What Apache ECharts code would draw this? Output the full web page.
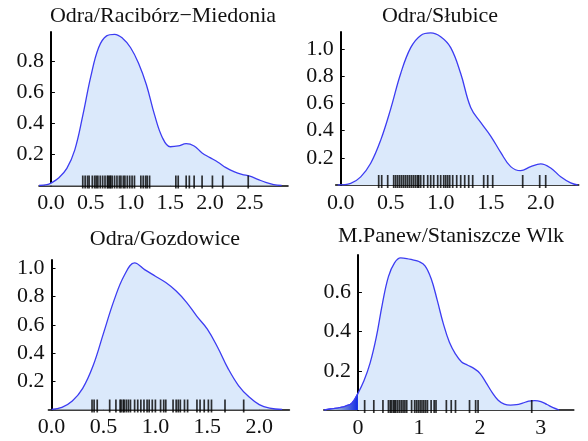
<!DOCTYPE html>
<html>
<head>
<meta charset="utf-8">
<script src="https://cdn.jsdelivr.net/npm/echarts@6/dist/echarts.min.js"></script>
<style>html,body{margin:0;padding:0;background:#fff;}#c{width:588px;height:441px;}</style>
</head>
<body>
<div id="c"></div>
<script>
// ---- Titles ----
const titles = ['Odra/Racibórz\u2212Miedonia', 'Odra/Słubice', 'Odra/Gozdowice', 'M.Panew/Staniszcze Wlk'];

// ---- Panel 1: Odra/Racibórz-Miedonia ----
const raciborzX = [-0.15,-0.05,0,0.1,0.2,0.3,0.4,0.5,0.6,0.7,0.8,0.9,1.0,1.1,1.2,1.3,1.4,1.5,1.6,1.7,1.8,1.9,2.0,2.1,2.2,2.3,2.4,2.5,2.6,2.7,2.8,2.9];
const raciborzY = [0.0,0.005,0.015,0.05,0.11,0.23,0.45,0.70,0.89,0.965,0.975,0.95,0.89,0.79,0.65,0.46,0.31,0.25,0.255,0.27,0.255,0.21,0.18,0.15,0.115,0.09,0.072,0.06,0.04,0.02,0.006,0.0];
const raciborzRug = [0.40,0.43,0.46,0.48,0.52,0.55,0.57,0.59,0.62,0.65,0.68,0.71,0.72,0.74,0.75,0.77,0.80,0.83,0.86,0.88,0.91,0.93,0.96,0.99,1.02,1.05,1.13,1.16,1.19,1.21,1.24,1.57,1.60,1.70,1.74,1.80,1.90,2.03,2.16,2.48];
const raciborzXTicks = [0,0.5,1,1.5,2,2.5];
const raciborzYTicks = [0.2,0.4,0.6,0.8];

// ---- Panel 2: Odra/Słubice ----
const slubiceX = [-0.03,0.1,0.2,0.3,0.4,0.5,0.6,0.7,0.8,0.9,1.0,1.1,1.2,1.3,1.4,1.5,1.6,1.7,1.8,1.9,2.0,2.1,2.2,2.3,2.37];
const slubiceY = [0.0,0.012,0.06,0.16,0.33,0.56,0.82,1.01,1.1,1.118,1.09,1.01,0.82,0.57,0.46,0.36,0.24,0.135,0.105,0.135,0.155,0.125,0.06,0.015,0.0];
const slubiceRug = [0.38,0.41,0.47,0.53,0.55,0.57,0.59,0.61,0.63,0.65,0.67,0.69,0.71,0.73,0.75,0.77,0.78,0.80,0.83,0.87,0.90,0.93,0.97,1.00,1.03,1.05,1.07,1.09,1.12,1.16,1.20,1.24,1.28,1.32,1.43,1.47,1.52,1.82,1.99,2.05];
const slubiceXTicks = [0,0.5,1,1.5,2];
const slubiceYTicks = [0.2,0.4,0.6,0.8,1.0];

// ---- Panel 3: Odra/Gozdowice ----
const gozdowiceX = [0,0.1,0.2,0.3,0.4,0.5,0.6,0.7,0.8,0.9,1.0,1.1,1.2,1.3,1.4,1.5,1.6,1.7,1.8,1.9,2.0,2.1,2.22];
const gozdowiceY = [0.0,0.015,0.06,0.15,0.31,0.54,0.77,0.95,1.04,0.99,0.945,0.9,0.84,0.76,0.66,0.57,0.44,0.29,0.17,0.09,0.035,0.01,0.0];
const gozdowiceRug = [0.39,0.41,0.44,0.56,0.62,0.66,0.67,0.69,0.70,0.72,0.74,0.76,0.80,0.83,0.86,0.89,0.92,0.94,0.97,1.00,1.05,1.08,1.10,1.17,1.20,1.22,1.24,1.28,1.31,1.40,1.43,1.47,1.51,1.54,1.67,1.85];
const gozdowiceXTicks = [0,0.5,1,1.5,2];
const gozdowiceYTicks = [0.2,0.4,0.6,0.8,1.0];

// ---- Panel 4: M.Panew/Staniszcze Wlk ----
const staniszczeX = [-0.55,-0.5,-0.4,-0.3,-0.2,-0.1,0,0.1,0.2,0.3,0.4,0.5,0.6,0.7,0.8,0.9,1.0,1.1,1.2,1.3,1.4,1.5,1.6,1.7,1.8,1.9,2.0,2.1,2.2,2.3,2.4,2.5,2.6,2.7,2.8,2.9,3.0,3.1,3.2,3.3];
const staniszczeY = [0.0,0.003,0.007,0.012,0.02,0.035,0.085,0.15,0.24,0.37,0.54,0.68,0.75,0.775,0.772,0.765,0.757,0.735,0.67,0.56,0.44,0.345,0.285,0.245,0.228,0.212,0.187,0.14,0.09,0.05,0.03,0.025,0.027,0.035,0.045,0.048,0.043,0.028,0.012,0.0];
const staniszczeRug = [0.11,0.26,0.41,0.50,0.53,0.55,0.58,0.60,0.62,0.65,0.68,0.71,0.74,0.77,0.80,0.88,0.93,0.96,0.99,1.02,1.05,1.08,1.11,1.14,1.20,1.25,1.28,1.45,1.53,1.60,1.83,1.93,1.97,2.85];
const staniszczeXTicks = [0,1,2,3];
const staniszczeYTicks = [0.2,0.4,0.6];

// ---- layout (pixels) ----
const panels = [
  {x: raciborzX, y: raciborzY, rug: raciborzRug, xt: raciborzXTicks, yt: raciborzYTicks, xmin: -0.15, xmax: 2.98, ymax: 0.99, left: 39, top: 32, width: 249, height: 153.5, dec: 1, tx: 163, ty: 5},
  {x: slubiceX, y: slubiceY, rug: slubiceRug, xt: slubiceXTicks, yt: slubiceYTicks, xmin: -0.05, xmax: 2.38, ymax: 1.125, left: 335.7, top: 32, width: 243, height: 153, dec: 1, tx: 440, ty: 5},
  {x: gozdowiceX, y: gozdowiceY, rug: gozdowiceRug, xt: gozdowiceXTicks, yt: gozdowiceYTicks, xmin: -0.03, xmax: 2.29, ymax: 1.06, left: 48.4, top: 260, width: 241, height: 149.5, dec: 1, tx: 165, ty: 228},
  {x: staniszczeX, y: staniszczeY, rug: staniszczeRug, xt: staniszczeXTicks, yt: staniszczeYTicks, xmin: -0.56, xmax: 3.54, ymax: 0.79, left: 323.8, top: 255, width: 250, height: 155, dec: 0, tx: 451, ty: 225}
];

const FONT = 'Liberation Serif';
const LINE = '#3c3cf2';
const FILL = '#dbe9fb';

const option = {
  backgroundColor: '#ffffff',
  animation: false,
  graphic: [], grid: [], xAxis: [], yAxis: [], series: []
};

panels.forEach((p, i) => {
  const zeroShift = (0 - p.xmin) / (p.xmax - p.xmin) * p.width;
  option.graphic.push({
    type: 'text', x: p.tx, y: p.ty, silent: true,
    style: {text: titles[i], fill: '#111', font: '22px "Liberation Serif"', textAlign: 'center', textVerticalAlign: 'top'}
  });
  option.grid.push({left: p.left, top: p.top, width: p.width, height: p.height, containLabel: false});
  option.xAxis.push({
    type: 'value', gridIndex: i, min: p.xmin, max: p.xmax,
    splitLine: {show: false},
    axisLine: {show: true, onZero: true, lineStyle: {color: '#000', width: 1.6}},
    axisTick: {show: true, inside: true, length: 4, customValues: p.xt, lineStyle: {color: '#000', width: 1}},
    axisLabel: {customValues: p.xt, margin: 7, fontFamily: FONT, fontSize: 22, color: '#111',
      formatter: v => v.toFixed(p.dec)}
  });
  option.yAxis.push({
    type: 'value', gridIndex: i, min: 0, max: p.ymax,
    position: 'left', offset: -zeroShift,
    splitLine: {show: false},
    axisLine: {show: true, onZero: false, lineStyle: {color: '#000', width: 2}},
    axisTick: {show: true, inside: true, length: 4, customValues: p.yt, lineStyle: {color: '#000', width: 1}},
    axisLabel: {customValues: p.yt, margin: 7, fontFamily: FONT, fontSize: 22, color: '#111',
      formatter: v => v.toFixed(1)}
  });
  const pts = p.x.map((xv, k) => [xv, p.y[k]]);
  option.series.push({
    type: 'line', xAxisIndex: i, yAxisIndex: i, data: pts, smooth: 0.4, showSymbol: false, silent: true,
    lineStyle: {color: LINE, width: 1.3}, areaStyle: {color: FILL, opacity: 1}, z: 2
  });
  if (i === 3) {
    const neg = pts.filter(d => d[0] <= 0);
    option.series.push({
      type: 'line', xAxisIndex: i, yAxisIndex: i, data: neg, smooth: 0.4, showSymbol: false, silent: true,
      lineStyle: {width: 0},
      areaStyle: {opacity: 1, color: new echarts.graphic.LinearGradient(0, 0, 1, 0, [
        {offset: 0, color: '#c9d6ea'}, {offset: 0.45, color: '#8aa3d3'}, {offset: 1, color: '#1028e6'}])},
      z: 3
    });
    option.series.push({
      type: 'line', xAxisIndex: i, yAxisIndex: i, data: neg, smooth: 0.4, showSymbol: false, silent: true,
      lineStyle: {color: LINE, width: 1.3}, z: 4
    });
  }
  option.series.push({
    type: 'scatter', xAxisIndex: i, yAxisIndex: i, data: p.rug.map(v => [v, 0]), silent: true, clip: false,
    symbol: 'rect', symbolSize: [1.7, 13], symbolOffset: [0, -3.5],
    itemStyle: {color: '#000'}, z: 5
  });
});

const chart = echarts.init(document.getElementById('c'), null, {renderer: 'canvas'});
chart.setOption(option);
</script>
</body>
</html>
